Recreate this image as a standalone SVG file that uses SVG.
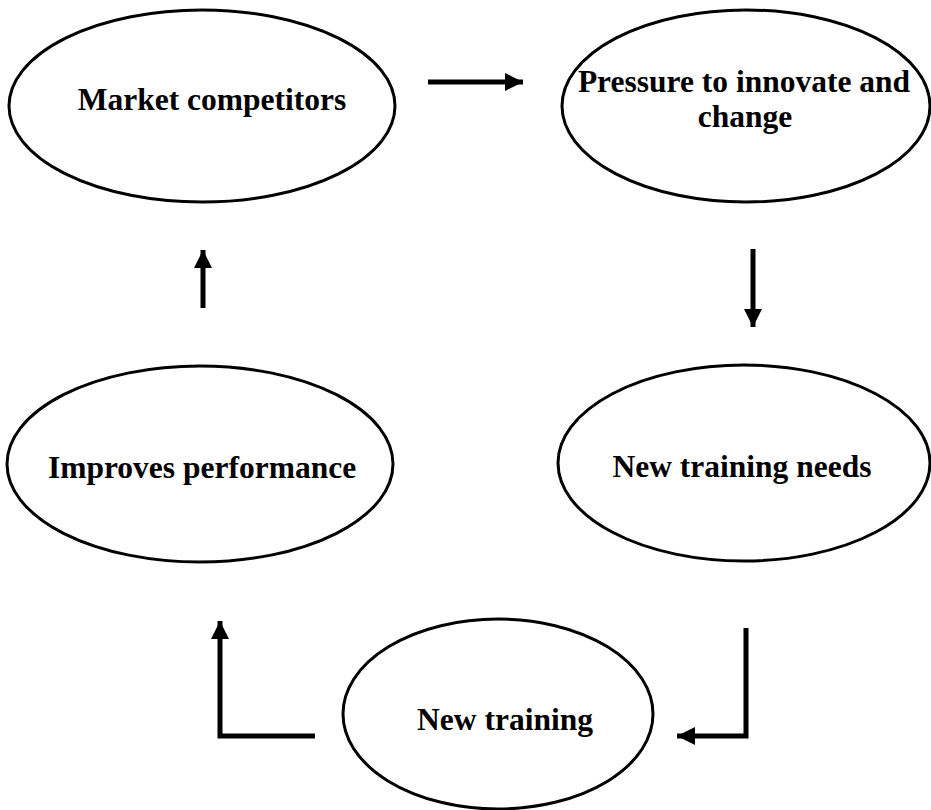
<svg xmlns="http://www.w3.org/2000/svg" width="931" height="810" viewBox="0 0 931 810">
<style>
.node{fill:#fff;stroke:#000;stroke-width:3}
.lbl{font-family:"Liberation Serif","Times New Roman",serif;font-weight:bold;font-size:31.5px;fill:#000;text-anchor:middle}
.conn{fill:none;stroke:#000;stroke-width:5}
</style>
<defs>
<marker id="ah" markerUnits="userSpaceOnUse" markerWidth="20" markerHeight="18" refX="18" refY="9" orient="auto">
<path d="M0,0 L18,9 L0,18 Z" fill="#000"/>
</marker>
</defs>
<rect width="931" height="810" fill="#fff"/>
<g id="market">
<ellipse class="node" cx="202" cy="106" rx="193" ry="96"/>
<text class="lbl" x="212" y="110">Market competitors</text>
</g>
<g id="pressure">
<ellipse class="node" cx="746" cy="106" rx="184" ry="96"/>
<text class="lbl" x="744" y="92">Pressure to innovate and</text>
<text class="lbl" x="745" y="127">change</text>
</g>
<g id="improves">
<ellipse class="node" cx="200" cy="464" rx="193" ry="98"/>
<text class="lbl" x="202" y="478">Improves performance</text>
</g>
<g id="needs">
<ellipse class="node" cx="744" cy="463" rx="186" ry="98"/>
<text class="lbl" x="742" y="477">New training needs</text>
</g>
<g id="training">
<ellipse class="node" cx="498" cy="714" rx="155" ry="95"/>
<text class="lbl" x="505" y="730">New training</text>
</g>
<g id="connectors">
<path class="conn" d="M428,82 L523,82" marker-end="url(#ah)"/>
<path class="conn" d="M753,249 L753,327" marker-end="url(#ah)"/>
<path class="conn" d="M746,628 L746,736 L677,736" marker-end="url(#ah)"/>
<path class="conn" d="M315,736 L220,736 L220,621" marker-end="url(#ah)"/>
<path class="conn" d="M203,308 L203,250" marker-end="url(#ah)"/>
</g>
</svg>
